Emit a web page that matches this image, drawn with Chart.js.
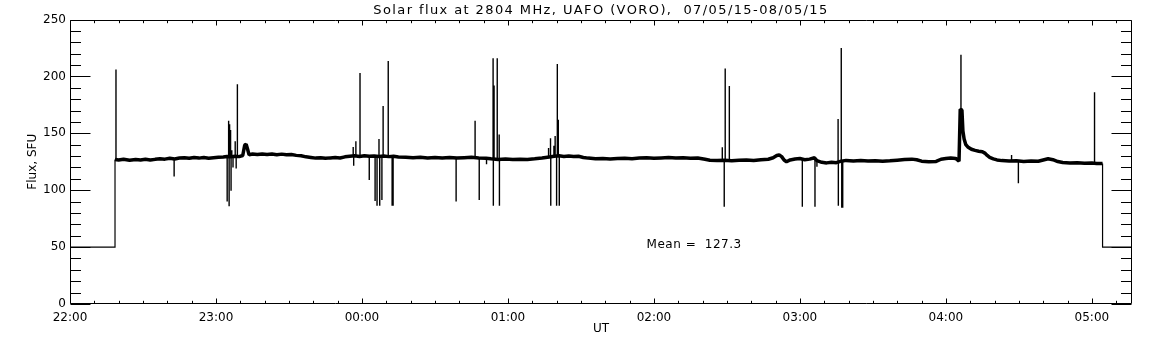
<!DOCTYPE html>
<html>
<head>
<meta charset="utf-8">
<script src="https://cdn.jsdelivr.net/npm/chart.js@4.4.1/dist/chart.umd.min.js"></script>
<style>
  html, body { margin: 0; padding: 0; background: #fff; }
  #wrap { width: 1152px; height: 345px; position: relative; }
</style>
</head>
<body>
<div id="wrap"><canvas id="flux"></canvas></div>
<script>
// time axis is in minutes after 22:00 UT
const hourTicks = [0, 60, 120, 180, 240, 300, 360, 420];
const hourLabels = ['22:00', '23:00', '00:00', '01:00', '02:00', '03:00', '04:00', '05:00'];
const fluxTicks = [0, 50, 100, 150, 200, 250];
const timeMax = 436.5;
const meanFlux = 127.3;

// quiet-sun level (noisy band)
const baseTimes = [18.5, 20, 22, 24.5, 27, 29, 31, 33, 35, 37, 39, 41, 43, 45, 47, 49, 51, 53, 55, 57, 59, 61, 63, 64.5, 66, 68, 69.5,
  71, 71.8, 72.4, 73, 73.6, 75, 77, 79, 81, 83, 85, 87, 89, 91, 93, 95, 97, 99, 101, 103, 105, 107, 109, 111, 113, 115, 117, 119,
  121, 123, 125, 127, 129, 131, 133, 135, 138, 141, 144, 147, 150, 153, 156, 159, 162, 165, 168, 171, 173, 176, 179, 182, 185, 188,
  191, 194, 197, 199, 201, 203, 205, 207, 209, 211, 213, 216, 219, 222, 225, 228, 231, 234, 237, 240, 243, 246, 249, 252, 255, 258,
  261, 263, 266, 269, 272, 275, 278, 281, 284, 287, 289, 290.5, 291.5, 292.5, 293.5, 294.5, 296, 298, 300, 302, 304, 306, 307, 309,
  311, 313, 315, 317, 319, 322, 325, 328, 331, 334, 337, 340, 343, 346, 348, 350, 353, 356, 358, 360, 362, 364, 365.4, 365.9, 366.6,
  367, 367.5, 368.2, 369, 370.5, 372, 373.5, 375, 376, 377, 378, 379.5, 381, 383, 386, 389, 392, 395, 398, 400, 402, 404, 406, 408,
  411, 414, 417, 420, 422, 424.4];
const baseFlux = [127, 126.5, 127.2, 126.3, 127, 126.6, 127.2, 126.5, 127.1, 127.6, 127.3, 128, 127.5, 128.3, 128.6, 128, 128.7, 128.2, 128.8, 128.1, 128.5, 128.9, 129.2, 129.6, 129.4, 129.8, 129.5,
  130.5, 139.5, 140.5, 136, 131, 131.8, 131.3, 131.9, 131.4, 131.8, 131.2, 131.7, 131.1, 131.3, 130.6, 130.2, 129.3, 128.8, 128.2, 128.6, 128, 128.4, 128.7, 128.3, 129.3, 129.8, 130.2, 129.7,
  130.3, 129.8, 130.1, 129.6, 130, 129.5, 129.8, 129.2, 129, 128.5, 128.9, 128.4, 128.8, 128.3, 128.7, 128.2, 128.6, 128.9, 128.4, 128.1, 127.6, 127, 127.4, 126.9, 127.3, 127,
  127.6, 128.3, 129.2, 129.8, 130.2, 129.7, 130.1, 129.6, 129.8, 128.8, 128.2, 127.6, 127.9, 127.4, 127.8, 128.1, 127.7, 128.2, 128.5, 128, 128.4, 128.7, 128.2, 128.5, 128, 128.3,
  127.2, 126.4, 126, 126.4, 125.9, 126.3, 126.6, 126.2, 126.8, 127.2, 128.5, 130.5, 131, 129.5, 126.5, 125, 126.6, 127.4, 127.8, 126.8, 127.3, 128.5, 126, 124.5,
  124, 124.6, 124.2, 125.5, 126.2, 125.7, 126, 125.6, 125.9, 125.4, 125.8, 126.4, 127, 127.3, 126.8, 125.5, 125, 125.3, 127.2, 127.8, 128.3, 127.9, 125.5, 171, 170.5,
  152, 145, 140, 138, 136, 135, 134.3, 133.8, 132.6, 130.5, 128.8, 127.5, 126.6, 126, 125.6, 125.8, 125.3, 125.6, 125.4, 126.5, 127.6, 126.8, 125.2, 124.3,
  123.8, 124.1, 123.6, 123.9, 123.5, 123.5];

// receiver off / calibration level before and after the session
const offTimes = [0, 18.5, 18.5, 18.5, 424.4, 424.4, timeMax];
const offFlux = [50, 50, 127, null, 123.5, 50, 50];

// single-sample interference spikes
const spikeTimes = [18.9, 42.8, 64.6, 65.2, 65.4, 65.6, 66.0, 66.2, 66.5, 67.0, 67.9, 68.3, 68.8,
  116.4, 116.6, 117.5, 119.2, 123.0, 125.4, 126.2, 127.0, 127.3, 128.2, 128.7, 130.8, 132.4, 132.8,
  158.7, 166.5, 168.2, 171.2, 173.9, 174.0, 174.3, 175.6, 176.4, 176.5,
  196.7, 197.5, 197.6, 198.9, 199.4, 200.0, 200.3, 200.7, 201.1,
  268.1, 268.9, 269.3, 271.0, 301.0, 306.2, 307.0, 315.7, 315.8, 317.0, 317.2, 317.6,
  366.2, 387.0, 389.8, 421.1];
const spikeFrom = [127, 128, 129.5, 129.5, 129.5, 129.5, 129.5, 129.5, 129.5, 129.5, 129.5, 129.5, 129.5,
  130, 130, 130, 130, 130, 130, 130, 130, 130, 130, 130, 130, 130, 130,
  128.5, 128.5, 128.5, 128, 128, 128, 128, 127.5, 127.5, 127.5,
  128.5, 129, 129, 129.5, 129.5, 130, 130, 130, 130,
  126, 126, 126, 126, 127, 128, 126, 125, 125, 125, 125, 125,
  171, 125.5, 125.5, 123.5];
const spikeTo = [206, 112, 90, 161, 86, 158, 153, 99.6, 135, 120, 143, 119, 193,
  138, 121.5, 143, 203, 109, 90.5, 86.4, 145, 86.4, 91.4, 174, 213.5, 86.4, 86.4,
  90, 161, 91.4, 122.7, 216, 86.4, 192, 216, 149, 86.4,
  137, 145.6, 86.4, 139, 147.6, 86.4, 211, 162, 86.4,
  137.7, 85.5, 207, 191.6, 85.5, 85.5, 120.7, 162.6, 86.4, 225, 84.6, 84.6,
  219, 131, 106, 186];

const basePoints = baseTimes.map((t, i) => ({ x: t, y: baseFlux[i] }));
const offPoints = offTimes.map((t, i) => ({ x: t, y: offFlux[i] }));
const spikePoints = spikeTimes.flatMap((t, i) => [
  { x: t, y: spikeFrom[i] }, { x: t, y: spikeTo[i] }, { x: t, y: null }
]);

const FONT = '"DejaVu Sans", sans-serif';

// IDL style frame: inward ticks on all four sides, title and mean label
const idlFrame = {
  id: 'idlFrame',
  afterDraw(chart) {
    const { ctx, chartArea: a, scales: { x, y } } = chart;
    ctx.save();
    ctx.strokeStyle = '#000';
    ctx.lineWidth = 1;
    ctx.beginPath();
    const L = Math.round(a.left) + 0.5, R = Math.round(a.right) - 0.5;
    const T = Math.round(a.top) + 0.5, B = Math.round(a.bottom) - 0.5;
    ctx.rect(L, T, R - L, B - T);
    for (let m = 0; m <= timeMax; m += 10) {
      const px = Math.round(x.getPixelForValue(m)) + 0.5;
      const len = m % 60 === 0 ? 5 : 2.7;
      ctx.moveTo(px, B); ctx.lineTo(px, B - len);
      ctx.moveTo(px, T); ctx.lineTo(px, T + len);
    }
    for (let v = 0; v <= 250; v += 10) {
      const py = Math.round(y.getPixelForValue(v)) + 0.5;
      const len = v % 50 === 0 ? 20 : 10.5;
      ctx.moveTo(L, py); ctx.lineTo(L + len, py);
      ctx.moveTo(R, py); ctx.lineTo(R - len, py);
    }
    ctx.stroke();

    ctx.fillStyle = '#000';
    ctx.font = '13px ' + FONT;
    ctx.letterSpacing = '1.4px';
    ctx.textAlign = 'center';
    ctx.textBaseline = 'alphabetic';
    ctx.fillText('Solar flux at 2804 MHz, UAFO (VORO),  07/05/15-08/05/15', (a.left + a.right) / 2, 13.5);

    ctx.font = '12px ' + FONT;
    ctx.letterSpacing = '0.5px';
    ctx.textAlign = 'left';
    ctx.textBaseline = 'middle';
    ctx.fillText('Mean =  ' + meanFlux.toFixed(1), x.getPixelForValue(237), y.getPixelForValue(52));
    ctx.restore();
  }
};

new Chart(document.getElementById('flux'), {
  type: 'line',
  data: {
    datasets: [
      { data: offPoints, borderColor: '#000', borderWidth: 1.2, pointRadius: 0, tension: 0, spanGaps: false },
      { data: basePoints, borderColor: '#000', borderWidth: 3.5, borderJoinStyle: 'bevel', pointRadius: 0, tension: 0 },
      { data: spikePoints, borderColor: '#000', borderWidth: 1.4, pointRadius: 0, tension: 0, spanGaps: false }
    ]
  },
  options: {
    responsive: true,
    maintainAspectRatio: false,
    animation: false,
    events: [],
    layout: { padding: { top: 19.5, right: 20, left: 0, bottom: 0 } },
    plugins: { legend: { display: false }, tooltip: { enabled: false }, title: { display: false } },
    scales: {
      x: {
        type: 'linear',
        min: 0,
        max: timeMax,
        grid: { display: false, drawTicks: false },
        border: { display: false },
        afterBuildTicks: (s) => { s.ticks = hourTicks.map(v => ({ value: v })); },
        afterFit: (s) => { s.height = 41; },
        ticks: {
          color: '#000',
          padding: 7,
          maxRotation: 0,
          font: { family: FONT, size: 12 },
          callback: (v) => hourLabels[hourTicks.indexOf(v)]
        },
        title: { display: true, text: 'UT', color: '#000', font: { family: FONT, size: 12 }, padding: { top: 0, bottom: 9 } }
      },
      y: {
        min: 0,
        max: 250,
        grid: { display: false, drawTicks: false },
        border: { display: false },
        afterBuildTicks: (s) => { s.ticks = fluxTicks.map(v => ({ value: v })); },
        afterFit: (s) => { s.width = 70; },
        ticks: { color: '#000', padding: 4, font: { family: FONT, size: 12 } },
        title: { display: true, text: 'Flux, SFU', color: '#000', font: { family: FONT, size: 12 }, padding: { top: 26, bottom: 0 } }
      }
    }
  },
  plugins: [idlFrame]
});
</script>
</body>
</html>
